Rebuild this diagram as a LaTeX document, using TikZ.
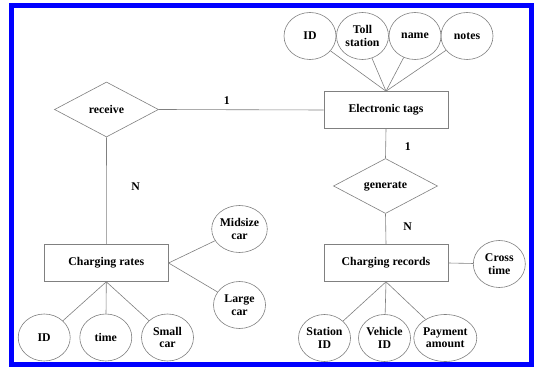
\documentclass[tikz,border=0pt]{standalone}
\usepackage{fontspec}
\setmainfont{Liberation Serif}
\usetikzlibrary{shapes.geometric}
\definecolor{edgegray}{gray}{0.5}
\begin{document}
\begin{tikzpicture}[x=1pt,y=1pt,
  every node/.style={font=\fontsize{11.8}{12.4}\selectfont\bfseries, text=black},
  entity/.style={draw=edgegray, line width=0.6pt, rectangle, minimum width=124pt, minimum height=37pt, inner sep=1pt},
  rel/.style={draw=edgegray, line width=0.6pt, diamond, minimum width=104pt, minimum height=55pt, inner sep=0pt},
  attr/.style={draw=edgegray, line width=0.6pt, ellipse, minimum width=52pt, minimum height=47pt, inner sep=0pt, align=center},
  conn/.style={draw=edgegray, line width=0.6pt},
  card/.style={inner sep=1pt}]
\useasboundingbox (0,0) rectangle (534,369);
\fill[white] (0,0) rectangle (534,369);
\draw[blue, line width=5pt] (11.5,4.5) rectangle (531,363.3);

% entities
\node[entity] (et) at (386,259) {Electronic tags};
\node[entity] (cr) at (386,106) {Charging records};
\node[entity] (rates) at (106.3,106) {Charging rates};

% relationships
\node[rel] (receive) at (106.5,259.5) {receive};
\node[rel] (generate) at (385.5,183) {generate};

% attributes of Electronic tags
\node[attr] (tid) at (310,333) {ID};
\node[attr] (toll) at (362.5,333) {Toll\\station};
\node[attr] (name) at (415,333) {name};
\node[attr] (notes) at (467,333) {notes};

% attributes of Charging rates
\node[attr] (midsize) at (239.5,140) {Midsize\\car};
\node[attr] (large) at (239.5,64) {Large\\car};
\node[attr] (rid) at (44.2,31.5) {ID};
\node[attr] (rtime) at (105.8,31.5) {time};
\node[attr] (small) at (167.5,31.5) {Small\\car};

% attributes of Charging records
\node[attr] (cross) at (499.3,105) {Cross\\time};
\node[attr] (station) at (324.5,31) {Station\\ID};
\node[attr] (vehicle) at (384.5,31) {Vehicle\\ID};
\node[attr] (payment) at (445.3,31) {Payment\\amount};

% connectors
\draw[conn] (tid) -- (et.north);
\draw[conn] (toll) -- (et.north);
\draw[conn] (name) -- (et.north);
\draw[conn] (notes) -- (et.north);
\draw[conn] (receive.east) -- (et.west);
\draw[conn] (receive.south) -- (rates.north);
\draw[conn] (et.south) -- (generate.north);
\draw[conn] (generate.south) -- (cr.north);
\draw[conn] (cr.east) -- (cross);
\draw[conn] (rates.east) -- (midsize);
\draw[conn] (rates.east) -- (large);
\draw[conn] (rates.south) -- (rid);
\draw[conn] (rates.south) -- (rtime);
\draw[conn] (rates.south) -- (small);
\draw[conn] (cr.south) -- (station);
\draw[conn] (cr.south) -- (vehicle);
\draw[conn] (cr.south) -- (payment);

% cardinalities
\node[card] (c1) at (226.7,268) {1};
\node[card] (c2) at (407.7,222.3) {1};
\node[card] (c3) at (135.7,182.3) {N};
\node[card] (c4) at (407.7,142.3) {N};
\end{tikzpicture}
\end{document}
